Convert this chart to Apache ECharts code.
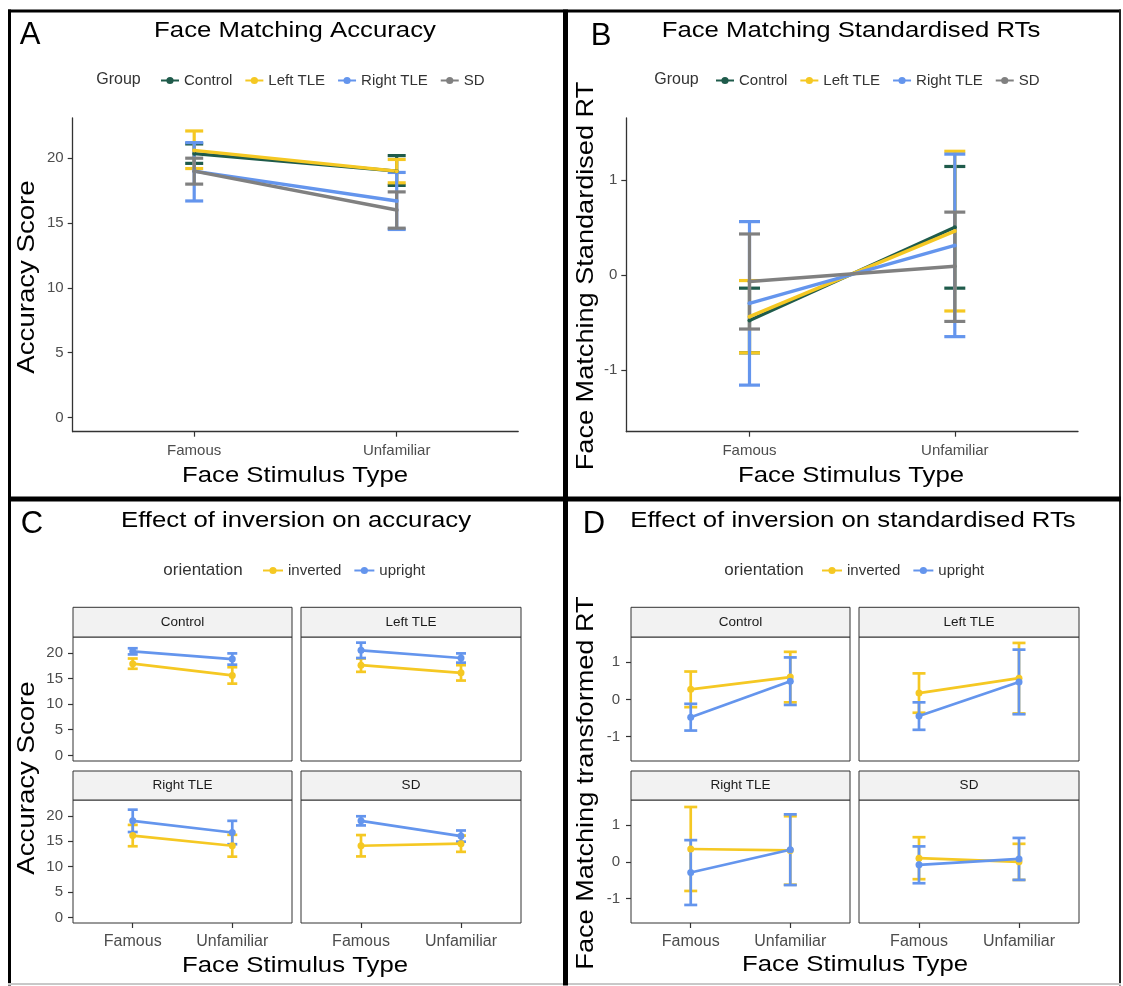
<!DOCTYPE html>
<html>
<head>
<meta charset="utf-8">
<title>Face matching accuracy and RTs</title>
<script src="https://cdn.jsdelivr.net/npm/echarts@6/dist/echarts.min.js"></script>
<style>
  html, body { margin: 0; padding: 0; background: #fff; }
  #chart { width: 1123px; height: 986px; }
</style>
</head>
<body>
<div id="chart"></div>
<script>
var stimulusTypes = ['Famous', 'Unfamiliar'];
var groups = ['Control', 'Left TLE', 'Right TLE', 'SD'];
var orientations = ['inverted', 'upright'];
var accTicks = [0, 5, 10, 15, 20];
var rtTicks = [-1, 0, 1];

// A: accuracy per group, values are [Famous, Unfamiliar]
var accMean = [[20.35, 19.0], [20.6, 19.0], [19.0, 16.7], [19.0, 16.0]];
var accLow  = [[19.6, 17.9], [19.2, 18.1], [16.7, 14.5], [18.0, 14.6]];
var accHigh = [[21.1, 20.2], [22.1, 19.9], [21.2, 18.9], [20.0, 17.4]];

// B: standardised RTs per group
var rtMean = [[-0.48, 0.50], [-0.44, 0.46], [-0.30, 0.31], [-0.07, 0.09]];
var rtLow  = [[-0.82, -0.14], [-0.82, -0.38], [-1.16, -0.65], [-0.57, -0.49]];
var rtHigh = [[-0.14, 1.14], [-0.06, 1.30], [0.56, 1.27], [0.43, 0.66]];

// C: accuracy by orientation, one row per group facet
var invAccMean = [[17.9, 15.6], [17.6, 16.1], [16.1, 14.1], [14.1, 14.5]];
var invAccErr  = [[1.0, 1.6], [1.3, 1.5], [2.1, 2.15], [2.1, 1.6]];
var uprAccMean = [[20.3, 18.8], [20.5, 19.0], [19.0, 16.7], [19.0, 16.0]];
var uprAccErr  = [[0.6, 1.1], [1.5, 0.9], [2.2, 2.3], [0.9, 1.1]];

// D: transformed RTs by orientation
var invRtMean = [[0.27, 0.60], [0.17, 0.57], [0.35, 0.31], [0.10, 0.00]];
var invRtErr  = [[0.48, 0.68], [0.53, 0.95], [1.14, 0.93], [0.57, 0.49]];
var uprRtMean = [[-0.48, 0.49], [-0.45, 0.47], [-0.29, 0.33], [-0.08, 0.08]];
var uprRtErr  = [[0.36, 0.64], [0.37, 0.87], [0.88, 0.96], [0.50, 0.57]];

var groupColors = ['#1f5b4b', '#f5c823', '#6495ed', '#808080'];
var orientColors = ['#f5c823', '#6495ed'];
var FONT = '"Liberation Sans", Arial, Helvetica, sans-serif';
var AXIS_GRAY = '#333333';
var LABEL_GRAY = '#4d4d4d';

var grids = [], xAxes = [], yAxes = [], series = [];

function addPanel(rect, yMin, yMax, yTicks, opt) {
   var gi = grids.length;
   grids.push({
      left: rect[0], top: rect[1], width: rect[2], height: rect[3],
      show: !!opt.border, borderColor: '#333', borderWidth: 1
   });
   xAxes.push({
      gridIndex: gi, type: 'value', min: 0.4, max: 2.6,
      axisLine: {show: !!opt.axisLines, onZero: false, lineStyle: {color: AXIS_GRAY, width: 1.3}},
      axisTick: {show: !!opt.xLabels, customValues: [1, 2], length: 5, lineStyle: {color: AXIS_GRAY, width: 1.2}},
      axisLabel: {
         show: !!opt.xLabels, customValues: [1, 2], margin: opt.xMargin,
         formatter: function (v) { return stimulusTypes[Math.round(v) - 1]; },
         fontSize: opt.xFont, color: LABEL_GRAY, fontFamily: FONT
      },
      splitLine: {show: false}
   });
   yAxes.push({
      gridIndex: gi, type: 'value', min: yMin, max: yMax,
      axisLine: {show: !!opt.axisLines, onZero: false, lineStyle: {color: AXIS_GRAY, width: 1.3}},
      axisTick: {show: !!opt.yLabels, customValues: yTicks, length: 5, lineStyle: {color: AXIS_GRAY, width: 1.2}},
      axisLabel: {show: !!opt.yLabels, customValues: yTicks, margin: opt.yMargin, fontSize: 15, color: LABEL_GRAY, fontFamily: FONT},
      splitLine: {show: false}
   });
   return gi;
}

function addErrorBars(gi, name, color, lows, highs, capHalf, lw) {
   series.push({
      type: 'custom', name: name, xAxisIndex: gi, yAxisIndex: gi, silent: true,
      data: lows.map(function (lo, k) { return [k + 1, lo, highs[k]]; }),
      encode: {x: 0, y: [1, 2]},
      renderItem: function (params, api) {
         var x = api.value(0);
         var pLo = api.coord([x, api.value(1)]);
         var pHi = api.coord([x, api.value(2)]);
         var st = {stroke: color, lineWidth: lw};
         return {type: 'group', children: [
            {type: 'line', shape: {x1: pLo[0], y1: pLo[1], x2: pHi[0], y2: pHi[1]}, style: st},
            {type: 'line', shape: {x1: pLo[0] - capHalf, y1: pLo[1], x2: pLo[0] + capHalf, y2: pLo[1]}, style: st},
            {type: 'line', shape: {x1: pHi[0] - capHalf, y1: pHi[1], x2: pHi[0] + capHalf, y2: pHi[1]}, style: st}
         ]};
      }
   });
}

function addLine(gi, name, color, means, lw, symSize) {
   series.push({
      type: 'line', name: name, xAxisIndex: gi, yAxisIndex: gi, silent: true,
      data: means.map(function (m, k) { return [k + 1, m]; }),
      symbol: 'circle', symbolSize: symSize,
      lineStyle: {color: color, width: lw}, itemStyle: {color: color}
   });
}

// Panel A and B
var gA = addPanel([72.7, 118, 445.5, 313.7], -1.1, 23.1, accTicks,
   {axisLines: true, xLabels: true, yLabels: true, xFont: 15, xMargin: 12, yMargin: 9});
var gB = addPanel([626.3, 118, 451.7, 313.7], -1.65, 1.65, rtTicks,
   {axisLines: true, xLabels: true, yLabels: true, xFont: 15, xMargin: 12, yMargin: 9});
groups.forEach(function (g, i) {
   addErrorBars(gA, g + ' err A', groupColors[i], accLow[i], accHigh[i], 9, 3.2);
   addLine(gA, g, groupColors[i], accMean[i], 3.4, 4);
});
groups.forEach(function (g, i) {
   addErrorBars(gB, g + ' err B', groupColors[i], rtLow[i], rtHigh[i], 10.5, 3.2);
   addLine(gB, g, groupColors[i], rtMean[i], 3.4, 4);
});

// Facets for C and D
var facetRowsTop = [637, 800], facetRowsH = [124, 123];
var facetColsC = [73, 301], facetColsD = [631, 859], facetW = [219, 220];

function addFacets(cols, yMin, yMax, yTicks, invMean, invErr, uprMean, uprErr, capHalf, yMargin) {
   groups.forEach(function (g, i) {
      var row = Math.floor(i / 2), col = i % 2;
      var gi = addPanel([cols[col], facetRowsTop[row], col ? facetW[1] : facetW[0], facetRowsH[row]], yMin, yMax, yTicks,
         {border: true, xLabels: row === 1, yLabels: col === 0, xFont: 16, xMargin: 11, yMargin: yMargin});
      var means = [invMean[i], uprMean[i]], errs = [invErr[i], uprErr[i]];
      orientations.forEach(function (o, k) {
         var lo = means[k].map(function (m, j) { return m - errs[k][j]; });
         var hi = means[k].map(function (m, j) { return m + errs[k][j]; });
         addErrorBars(gi, o + ' err ' + gi, orientColors[k], lo, hi, capHalf, 2.7);
         addLine(gi, o, orientColors[k], means[k], 2.7, 7);
      });
   });
}
addFacets(facetColsC, -1.1, 23.1, accTicks, invAccMean, invAccErr, uprAccMean, uprAccErr, 5, 10);
addFacets(facetColsD, -1.66, 1.68, rtTicks, invRtMean, invRtErr, uprRtMean, uprRtErr, 6.5, 11);

// text and frame drawn with graphic elements
function txt(text, x, y, size, o) {
   o = o || {};
   return {
      type: 'text', x: x, y: y, silent: true, z: 100,
      rotation: o.rotate ? Math.PI / 2 : 0, scaleX: o.sx || 1,
      style: {
         text: text, fontSize: size, fontFamily: FONT, fill: o.color || '#000',
         textAlign: 'center', textVerticalAlign: 'middle', align: 'center', verticalAlign: 'middle'
      }
   };
}
function box(x, y, w, h, fill, stroke) {
   return {type: 'rect', silent: true, z: 50, shape: {x: x, y: y, width: w, height: h},
      style: {fill: fill, stroke: stroke || null, lineWidth: stroke ? 1 : 0}};
}

var graphics = [
   box(8, 9.5, 1113, 3, '#000'),
   box(8, 9.5, 3, 976, '#000'),
   box(1119, 9.5, 2, 976, '#222'),
   box(8, 983, 1113, 2, '#c8c8c8'),
   box(563, 9.5, 5, 976, '#000'),
   box(8, 496.5, 1113, 5, '#000'),

   txt('A', 30, 35, 31), txt('B', 601, 36, 31), txt('C', 32, 524, 31), txt('D', 594, 524, 31),
   txt('Face Matching Accuracy', 295, 31, 22, {sx: 1.17}),
   txt('Face Matching Standardised RTs', 851, 31, 22, {sx: 1.17}),
   txt('Effect of inversion on accuracy', 296, 521, 22, {sx: 1.17}),
   txt('Effect of inversion on standardised RTs', 853, 521, 22, {sx: 1.17}),

   txt('Face Stimulus Type', 295, 476, 22, {sx: 1.17}),
   txt('Face Stimulus Type', 851, 476, 22, {sx: 1.17}),
   txt('Face Stimulus Type', 295, 966, 22, {sx: 1.17}),
   txt('Face Stimulus Type', 855, 965, 22, {sx: 1.17}),
   txt('Accuracy Score', 27, 277, 24, {rotate: true, sx: 1.15}),
   txt('Face Matching Standardised RT', 586, 276, 24, {rotate: true, sx: 1.13}),
   txt('Accuracy Score', 27, 778, 24, {rotate: true, sx: 1.15}),
   txt('Face Matching transformed RT', 586, 783, 24, {rotate: true, sx: 1.13}),

   txt('Group', 118.5, 80, 16, {color: '#333'}),
   txt('Group', 676.5, 80, 16, {color: '#333'}),
   txt('orientation', 203, 570, 17, {color: '#333'}),
   txt('orientation', 764, 570, 17, {color: '#333'})
];

// facet strips
[facetColsC, facetColsD].forEach(function (cols) {
   groups.forEach(function (g, i) {
      var row = Math.floor(i / 2), col = i % 2;
      var w = col ? facetW[1] : facetW[0];
      var top = row ? 771 : 607.3, h = row ? 29 : 29.7;
      graphics.push(box(cols[col], top, w, h, '#f2f2f2', '#333'));
      graphics.push(txt(g, cols[col] + w / 2, top + h / 2, 13.5, {color: '#1a1a1a'}));
   });
});

function legendAt(names, left, top, iw) {
   return {
      data: names, left: left, top: top, itemWidth: iw, itemHeight: 9, itemGap: 12,
      selectedMode: false, textStyle: {fontSize: 15, color: '#333', fontFamily: FONT}
   };
}

var chart = echarts.init(document.getElementById('chart'));
chart.setOption({
   animation: false,
   backgroundColor: '#fff',
   grid: grids,
   xAxis: xAxes,
   yAxis: yAxes,
   legend: [
      legendAt(groups, 155, 68, 18),
      legendAt(groups, 710, 68, 18),
      legendAt(orientations, 257, 558, 20),
      legendAt(orientations, 816, 558, 20)
   ],
   graphic: graphics,
   series: series
});
</script>
</body>
</html>
